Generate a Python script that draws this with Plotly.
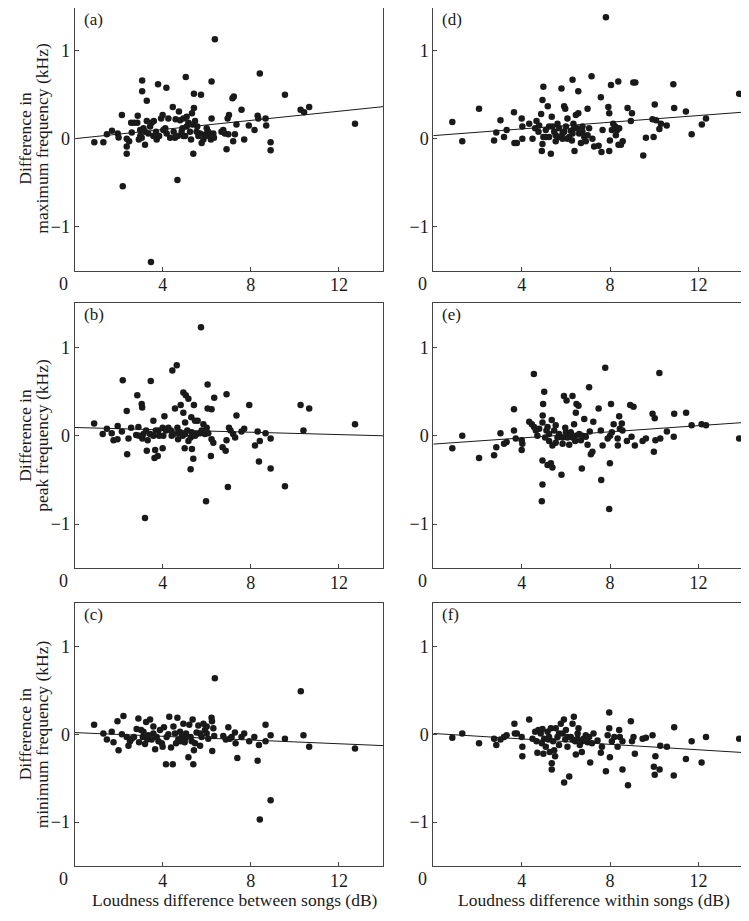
import plotly.graph_objects as go

# ---------------- data ----------------
# Left column: loudness difference between songs (dB)
a_x = [0.9, 1.31, 1.47, 1.7, 1.96, 2.0, 2.15, 2.19, 2.37, 2.37, 2.37, 2.48, 2.57, 2.6, 2.7, 2.85, 2.87, 2.92,
       2.98, 2.98, 3.05, 3.07, 3.07, 3.13, 3.2, 3.2, 3.28, 3.28, 3.35, 3.43, 3.47, 3.5, 3.58, 3.6, 3.7, 3.73,
       3.79, 3.84, 3.93, 4.0, 4.03, 4.12, 4.17, 4.18, 4.26, 4.34, 4.46, 4.5, 4.56, 4.59, 4.67, 4.68, 4.74,
       4.79, 4.86, 4.9, 4.94, 4.94, 5.02, 5.05, 5.09, 5.09, 5.17, 5.24, 5.29, 5.33, 5.36, 5.39, 5.42, 5.42,
       5.47, 5.54, 5.57, 5.62, 5.7, 5.74, 5.77, 5.85, 5.92, 5.95, 6.0, 6.07, 6.12, 6.19, 6.22, 6.22, 6.3,
       6.33, 6.37, 6.67, 6.75, 6.82, 6.9, 6.95, 6.98, 7.01, 7.17, 7.2, 7.23, 7.28, 7.35, 7.58, 7.7, 7.91,
       8.17, 8.31, 8.34, 8.41, 8.67, 8.7, 8.9, 8.9, 9.55, 10.26, 10.42, 10.65, 12.73]
a_y = [-0.04, -0.04, 0.05, 0.09, 0.06, 0.015, 0.27, -0.54, 0.0, -0.09, -0.17, -0.03, 0.18, 0.07, 0.18, 0.18,
       0.26, -0.01, 0.1, 0.03, 0.01, 0.66, 0.54, 0.12, -0.07, 0.08, 0.43, 0.2, 0.06, 0.14, -1.40, 0.18, 0.03,
       0.2, 0.08, -0.01, 0.62, 0.03, 0.23, 0.27, 0.1, 0.12, 0.58, 0.06, 0.23, 0.01, 0.36, 0.08, 0.01, 0.22,
       -0.47, 0.03, 0.31, 0.21, 0.08, 0.12, 0.23, 0.03, 0.03, 0.70, 0.25, 0.14, 0.18, 0.08, -0.01, 0.29, 0.16,
       -0.17, 0.35, 0.51, 0.2, 0.08, 0.14, 0.03, 0.06, 0.5, -0.05, -0.01, 0.03, 0.05, 0.12, 0.08, 0.03, -0.01,
       0.65, 0.23, 0.06, 0.01, 1.13, 0.08, 0.1, 0.06, -0.12, 0.23, 0.05, 0.27, 0.46, -0.03, 0.48, 0.05, 0.16,
       0.33, -0.01, 0.15, 0.1, 0.26, 0.23, 0.74, 0.23, 0.15, -0.04, -0.13, 0.5, 0.33, 0.3, 0.36, 0.17]

b_x = [0.89, 1.28, 1.47, 1.69, 1.77, 1.95, 1.96, 2.15, 2.19, 2.37, 2.39, 2.45, 2.57, 2.8, 2.85, 2.9, 2.93,
       3.05, 3.07, 3.08, 3.13, 3.2, 3.25, 3.28, 3.32, 3.43, 3.46, 3.58, 3.58, 3.63, 3.66, 3.69, 3.78, 3.81,
       3.84, 4.0, 4.0, 4.03, 4.08, 4.15, 4.26, 4.37, 4.41, 4.44, 4.49, 4.56, 4.64, 4.67, 4.7, 4.71, 4.79,
       4.82, 4.91, 4.94, 4.94, 5.0, 5.02, 5.02, 5.05, 5.12, 5.17, 5.17, 5.27, 5.27, 5.3, 5.32, 5.33, 5.39,
       5.42, 5.47, 5.47, 5.54, 5.59, 5.7, 5.74, 5.77, 5.85, 5.92, 5.97, 6.0, 6.04, 6.04, 6.07, 6.19, 6.22,
       6.22, 6.3, 6.34, 6.72, 6.86, 6.9, 6.9, 6.96, 7.01, 7.08, 7.2, 7.29, 7.35, 7.58, 7.7, 7.93, 8.19,
       8.31, 8.37, 8.41, 8.67, 8.9, 8.9, 9.55, 10.26, 10.39, 10.65, 12.73]
b_y = [0.14, 0.02, 0.08, 0.03, -0.05, -0.04, 0.11, 0.05, 0.63, 0.28, -0.21, -0.03, 0.09, 0.01, 0.46, 0.1, 0.0,
       0.36, 0.32, -0.03, 0.02, -0.93, 0.06, -0.17, -0.05, 0.02, 0.62, 0.17, 0.0, -0.25, -0.16, 0.06, -0.23,
       0.06, 0.0, -0.14, 0.09, 0.0, 0.22, 0.06, 0.09, 0.06, 0.0, 0.74, 0.02, 0.31, 0.8, 0.09, -0.04, 0.03,
       0.04, 0.35, 0.0, 0.26, 0.49, -0.14, 0.15, 0.02, 0.46, 0.06, 0.42, -0.06, -0.38, -0.02, 0.21, 0.04,
       -0.15, -0.26, 0.35, 0.17, 0.0, 0.02, 0.17, 0.03, 1.23, 0.06, 0.13, 0.02, -0.74, 0.09, 0.58, 0.31, 0.03,
       -0.23, 0.3, -0.04, -0.08, 0.43, -0.13, -0.17, 0.47, -0.05, -0.58, 0.09, 0.06, 0.02, -0.02, 0.23, 0.05,
       0.08, 0.35, -0.11, 0.05, -0.29, -0.06, 0.03, -0.03, -0.37, -0.57, 0.35, 0.06, 0.31, 0.13]

c_x = [0.89, 1.31, 1.47, 1.69, 1.77, 1.95, 2.0, 2.15, 2.22, 2.37, 2.45, 2.52, 2.6, 2.7, 2.82, 2.9, 2.93,
       3.02, 3.1, 3.13, 3.2, 3.25, 3.3, 3.35, 3.43, 3.5, 3.58, 3.58, 3.66, 3.73, 3.81, 3.88, 3.96, 4.0,
       4.06, 4.15, 4.18, 4.26, 4.3, 4.38, 4.46, 4.49, 4.56, 4.61, 4.67, 4.71, 4.79, 4.82, 4.86, 4.94, 5.0,
       5.02, 5.06, 5.17, 5.21, 5.27, 5.32, 5.36, 5.39, 5.42, 5.47, 5.54, 5.62, 5.7, 5.7, 5.77, 5.85, 5.92,
       6.0, 6.0, 6.07, 6.22, 6.24, 6.25, 6.3, 6.34, 6.37, 6.75, 6.87, 6.98, 7.05, 7.13, 7.28, 7.31, 7.39,
       7.58, 7.7, 7.93, 8.16, 8.31, 8.37, 8.41, 8.67, 8.67, 8.9, 8.9, 9.55, 10.27, 10.39, 10.65, 12.73]
c_y = [0.11, 0.01, -0.06, 0.03, -0.09, 0.15, -0.18, 0.0, 0.21, -0.03, -0.13, -0.08, -0.05, -0.03, 0.06, 0.18,
       -0.09, 0.05, -0.03, 0.03, -0.11, 0.14, -0.06, -0.01, 0.17, -0.06, 0.09, 0.01, -0.17, -0.03, -0.08, 0.05,
       -0.1, -0.14, 0.08, -0.34, -0.03, 0.0, 0.2, -0.15, -0.34, 0.09, 0.01, -0.1, 0.19, -0.06, 0.03, -0.08,
       -0.03, 0.12, -0.09, -0.05, 0.01, -0.26, 0.11, -0.03, -0.08, 0.17, -0.34, -0.18, -0.1, 0.02, 0.1, -0.13,
       0.01, -0.03, 0.12, 0.05, 0.09, 0.01, -0.05, 0.19, 0.15, -0.19, 0.07, -0.02, 0.64, -0.02, -0.06, 0.08,
       -0.05, -0.03, 0.02, -0.1, -0.27, -0.03, 0.01, -0.08, -0.03, -0.3, -0.12, -0.97, 0.11, -0.08, -0.01,
       -0.75, -0.05, 0.49, -0.01, -0.14, -0.16]

# Right column: loudness difference within songs (dB)
d_x = [0.86, 1.31, 2.07, 2.75, 2.85, 3.04, 3.2, 3.32, 3.65, 3.67, 3.78, 4.0, 4.03, 4.03, 4.34, 4.49, 4.61,
       4.67, 4.76, 4.79, 4.88, 4.91, 4.94, 4.98, 4.94, 4.98, 5.09, 5.09, 5.18, 5.24, 5.24, 5.32, 5.36, 5.39,
       5.47, 5.54, 5.54, 5.62, 5.69, 5.69, 5.8, 5.85, 5.85, 5.92, 5.92, 5.97, 6.0, 6.07, 6.07, 6.15, 6.22,
       6.27, 6.3, 6.3, 6.34, 6.37, 6.39, 6.45, 6.5, 6.56, 6.56, 6.6, 6.68, 6.75, 6.75, 6.83, 6.9, 6.98, 6.98,
       7.05, 7.16, 7.2, 7.28, 7.48, 7.58, 7.61, 7.66, 7.81, 7.92, 7.96, 7.96, 7.99, 8.04, 8.08, 8.14, 8.23,
       8.26, 8.32, 8.37, 8.38, 8.41, 8.49, 8.57, 8.79, 8.94, 8.99, 9.05, 9.14, 9.5, 9.62, 9.92, 9.97, 10.02,
       10.08, 10.23, 10.3, 10.56, 10.86, 10.9, 11.43, 11.69, 12.15, 12.34, 13.84]
d_y = [0.19, -0.03, 0.34, -0.02, 0.07, 0.21, 0.02, 0.1, 0.3, -0.05, -0.05, 0.23, 0.14, 0.0, 0.17, 0.0, 0.12,
       0.2, 0.08, 0.15, 0.28, -0.14, 0.44, 0.59, -0.06, 0.02, 0.1, 0.02, 0.37, 0.02, 0.14, -0.17, 0.25, 0.14,
       0.08, -0.03, 0.04, 0.17, 0.12, 0.02, 0.57, 0.06, 0.0, 0.37, 0.08, 0.34, 0.14, 0.23, 0.0, 0.02, 0.09,
       -0.02, 0.67, 0.06, 0.17, 0.12, -0.14, 0.27, 0.12, 0.54, 0.29, 0.06, -0.05, 0.14, 0.08, 0.02, -0.03,
       0.34, 0.04, 0.12, 0.71, 0.0, -0.09, -0.08, 0.47, -0.15, 0.1, 1.38, 0.36, 0.29, -0.14, -0.02, 0.61,
       0.1, 0.17, 0.14, 0.04, 0.1, 0.65, -0.07, 0.12, -0.07, -0.03, 0.35, 0.2, 0.29, 0.64, 0.64, -0.19, 0.01,
       0.22, 0.02, 0.39, 0.21, 0.11, 0.17, 0.15, 0.62, 0.35, 0.31, 0.05, 0.16, 0.23, 0.51]

e_x = [0.86, 1.31, 2.07, 2.75, 2.85, 3.04, 3.2, 3.32, 3.65, 3.65, 3.73, 4.0, 4.03, 4.0, 4.34, 4.46, 4.55,
       4.56, 4.64, 4.71, 4.79, 4.91, 4.94, 4.94, 4.94, 4.95, 4.97, 5.02, 5.06, 5.12, 5.17, 5.17, 5.24, 5.24,
       5.32, 5.36, 5.39, 5.39, 5.47, 5.54, 5.54, 5.62, 5.69, 5.8, 5.85, 5.85, 5.91, 5.97, 6.0, 6.03, 6.07,
       6.15, 6.15, 6.22, 6.3, 6.3, 6.37, 6.42, 6.45, 6.45, 6.48, 6.57, 6.6, 6.68, 6.72, 6.75, 6.83, 6.9,
       6.98, 7.05, 7.08, 7.13, 7.2, 7.24, 7.48, 7.58, 7.6, 7.66, 7.78, 7.89, 7.96, 7.99, 8.0, 8.04, 8.08,
       8.16, 8.34, 8.35, 8.41, 8.44, 8.53, 8.56, 8.76, 8.91, 8.97, 9.06, 9.12, 9.47, 9.62, 9.92, 9.98, 10.02,
       10.05, 10.23, 10.27, 10.57, 10.88, 10.9, 11.44, 11.69, 12.14, 12.34, 13.84]
e_y = [-0.14, 0.0, -0.25, -0.22, -0.13, 0.03, -0.09, -0.07, 0.3, 0.06, -0.03, -0.05, -0.09, -0.16, 0.16, 0.13,
       0.7, 0.1, 0.06, 0.0, 0.08, -0.74, -0.55, -0.28, 0.15, 0.23, 0.36, 0.5, -0.02, 0.06, -0.33, 0.1, -0.06,
       0.02, -0.31, 0.18, -0.36, -0.11, 0.06, 0.12, -0.08, -0.02, 0.02, -0.44, -0.09, -0.02, 0.45, 0.09, 0.04,
       0.4, -0.02, -0.1, 0.02, 0.04, 0.45, -0.02, 0.13, -0.06, 0.26, 0.0, 0.36, 0.34, 0.02, -0.05, -0.37, 0.0,
       0.19, -0.01, -0.1, 0.55, 0.05, -0.21, -0.18, 0.16, 0.31, 0.06, -0.5, -0.11, 0.77, -0.03, -0.83, -0.31,
       0.0, 0.36, 0.04, 0.13, -0.03, -0.11, 0.22, 0.08, 0.14, 0.06, -0.06, 0.35, -0.01, 0.33, -0.11, -0.06,
       -0.03, 0.25, -0.18, 0.2, -0.05, 0.71, -0.03, 0.05, -0.01, 0.25, 0.26, 0.12, 0.13, 0.12, -0.03]

f_x = [0.86, 1.31, 2.07, 2.75, 2.85, 3.04, 3.2, 3.32, 3.67, 3.69, 3.78, 4.0, 4.03, 4.03, 4.34, 4.49, 4.61,
       4.67, 4.71, 4.76, 4.86, 4.91, 4.94, 4.98, 5.02, 5.09, 5.17, 5.21, 5.24, 5.27, 5.32, 5.36, 5.36, 5.42,
       5.47, 5.51, 5.54, 5.62, 5.69, 5.69, 5.77, 5.85, 5.91, 5.92, 5.97, 6.0, 6.07, 6.07, 6.15, 6.22, 6.3,
       6.3, 6.36, 6.42, 6.45, 6.53, 6.53, 6.57, 6.63, 6.72, 6.75, 6.8, 6.9, 6.98, 7.05, 7.1, 7.18, 7.25,
       7.43, 7.58, 7.63, 7.81, 7.89, 7.96, 7.96, 7.99, 8.08, 8.19, 8.34, 8.41, 8.44, 8.56, 8.56, 8.81, 8.94,
       8.99, 9.06, 9.12, 9.47, 9.62, 9.92, 9.98, 10.02, 10.05, 10.24, 10.27, 10.57, 10.88, 10.9, 11.43,
       11.69, 12.14, 12.34, 13.84]
f_y = [-0.04, 0.01, -0.1, -0.05, -0.12, -0.06, -0.03, -0.01, 0.12, 0.01, 0.01, -0.03, -0.14, -0.25, 0.17,
       -0.05, 0.03, -0.08, -0.21, 0.05, 0.01, -0.1, 0.06, -0.22, -0.05, -0.14, 0.03, -0.06, -0.03, -0.2, 0.07,
       -0.33, -0.4, -0.08, -0.18, -0.25, 0.07, -0.03, -0.12, 0.01, 0.12, 0.01, 0.17, -0.55, -0.06, 0.05, -0.14,
       -0.03, -0.48, -0.03, 0.12, -0.06, 0.2, -0.08, -0.23, 0.01, -0.05, 0.07, -0.12, -0.2, -0.08, -0.05,
       -0.01, -0.09, -0.03, -0.32, -0.1, 0.01, -0.07, -0.21, -0.14, -0.42, -0.01, 0.25, 0.07, -0.26, -0.08,
       -0.03, -0.14, 0.05, -0.03, -0.08, -0.4, -0.58, 0.15, -0.08, -0.03, -0.22, -0.05, -0.04, -0.01, -0.37,
       -0.46, -0.25, -0.4, -0.13, -0.14, -0.47, 0.08, -0.28, -0.08, -0.32, -0.03, -0.05]

# regression lines (intercept, slope)
fits = {"a": (0.0, 0.026), "b": (0.094, -0.0067), "c": (0.02, -0.0106),
        "d": (0.035, 0.019), "e": (-0.094, 0.0174), "f": (0.01, -0.0155)}

panel_labels = ["(a)", "(d)", "(b)", "(e)", "(c)", "(f)"]
y_tick_vals = [-1, 0, 1]
y_tick_text = ["\u22121", "0", "1"]
x_tick_vals = [4, 8, 12]
x_tick_text = ["4", "8", "12"]
x_range = [0, 14]
y_range = [-1.5, 1.5]
y_titles = [("Difference in", "maximum frequency (kHz)"),
            ("Difference in", "peak frequency (kHz)"),
            ("Difference in", "minimum frequency (kHz)")]
x_titles = ["Loudness difference between songs (dB)", "Loudness difference within songs (dB)"]

# ---------------- figure ----------------
# the page body adds an 8px margin, so the figure is drawn 8px smaller and
# all target positions (measured on the 749x921 page) are offset by 8px
OFF = 8
W, H = 749 - OFF, 921 - OFF
FONT = "Liberation Serif"
INK = "#1a1a1a"

col_px = [(74.5 - OFF, 383.0 - OFF), (433.3 - OFF, 742.7 - OFF)]
row_px = [(6.7 - OFF, 270.7 - OFF), (303.3 - OFF, 568.3 - OFF), (602.7 - OFF, 866.0 - OFF)]

panels = [("a", a_x, a_y), ("d", d_x, d_y), ("b", b_x, b_y),
          ("e", e_x, e_y), ("c", c_x, c_y), ("f", f_x, f_y)]

fig = go.Figure()
layout = dict(width=W, height=H, margin=dict(l=0, r=0, t=0, b=0),
              paper_bgcolor="white", plot_bgcolor="white", showlegend=False,
              font=dict(family=FONT, color=INK, size=17))
annotations = []

for i, (key, xs, ys) in enumerate(panels):
    r, c = divmod(i, 2)
    n = i + 1
    xa = "x" if n == 1 else f"x{n}"
    ya = "y" if n == 1 else f"y{n}"
    x0, x1 = col_px[c]
    yt, yb = row_px[r]
    ppu = (yb - yt) / (y_range[1] - y_range[0])
    ytop_val = y_range[1]
    if yt < 0:  # frame would start above the drawable area: trim the range instead
        ytop_val = y_range[1] - (-yt) / ppu
        yt = 0
    axis_common = dict(showline=True, linecolor="#444", linewidth=1, mirror=True,
                       ticks="inside", ticklen=4, tickcolor="#444", tickwidth=1,
                       showgrid=False, zeroline=False, automargin=False,
                       tickfont=dict(family=FONT, size=18, color=INK))
    layout["xaxis" if n == 1 else f"xaxis{n}"] = dict(
        axis_common, domain=[x0 / W, min(1, x1 / W)], range=x_range,
        tickvals=x_tick_vals, ticktext=x_tick_text, anchor=ya, ticklabelstandoff=-2)
    layout["yaxis" if n == 1 else f"yaxis{n}"] = dict(
        axis_common, domain=[(H - yb) / H, min(1, (H - yt) / H)], range=[y_range[0], ytop_val],
        tickvals=y_tick_vals, ticktext=y_tick_text, anchor=xa, ticklabelstandoff=0)

    fig.add_trace(go.Scatter(x=xs, y=ys, mode="markers", xaxis=xa, yaxis=ya,
                             marker=dict(size=6.5, color=INK, line=dict(width=0)),
                             cliponaxis=False))
    b0, b1 = fits[key]
    fig.add_trace(go.Scatter(x=x_range, y=[b0 + b1 * x_range[0], b0 + b1 * x_range[1]],
                             mode="lines", xaxis=xa, yaxis=ya,
                             line=dict(color=INK, width=1)))
    # panel letter
    annotations.append(dict(text=panel_labels[i], xref=f"{xa} domain", yref=f"{ya} domain",
                            x=0, y=1, xanchor="left", yanchor="top", xshift=7, yshift=0,
                            showarrow=False, font=dict(family=FONT, size=17, color=INK)))
    # x-axis "0" label, set slightly left of the axis origin
    annotations.append(dict(text="0", xref=xa, yref=f"{ya} domain", x=0, y=0,
                            xanchor="center", yanchor="top", xshift=-11, yshift=-1,
                            showarrow=False, font=dict(family=FONT, size=18, color=INK)))

# y titles (two lines each)
for r, (l1, l2) in enumerate(y_titles):
    yt, yb = row_px[r]
    yc = 1 - ((yt + yb) / 2) / H
    annotations.append(dict(text=l1, xref="paper", yref="paper", x=(25 - OFF) / W, y=yc,
                            xanchor="center", yanchor="middle", textangle=-90,
                            showarrow=False, font=dict(family=FONT, size=17.5, color=INK)))
    annotations.append(dict(text=l2, xref="paper", yref="paper", x=(42 - OFF) / W, y=yc,
                            xanchor="center", yanchor="middle", textangle=-90,
                            showarrow=False, font=dict(family=FONT, size=17.5, color=INK)))

# x titles
for c, t in enumerate(x_titles):
    x0, x1 = col_px[c]
    annotations.append(dict(text=t, xref="paper", yref="paper", x=((x0 + x1) / 2 + 6) / W,
                            y=1 - (900 - OFF) / H, xanchor="center", yanchor="middle",
                            showarrow=False, font=dict(family=FONT, size=17.5, color=INK)))

layout["annotations"] = annotations
fig.update_layout(**layout)
fig.write_html("out.html")
